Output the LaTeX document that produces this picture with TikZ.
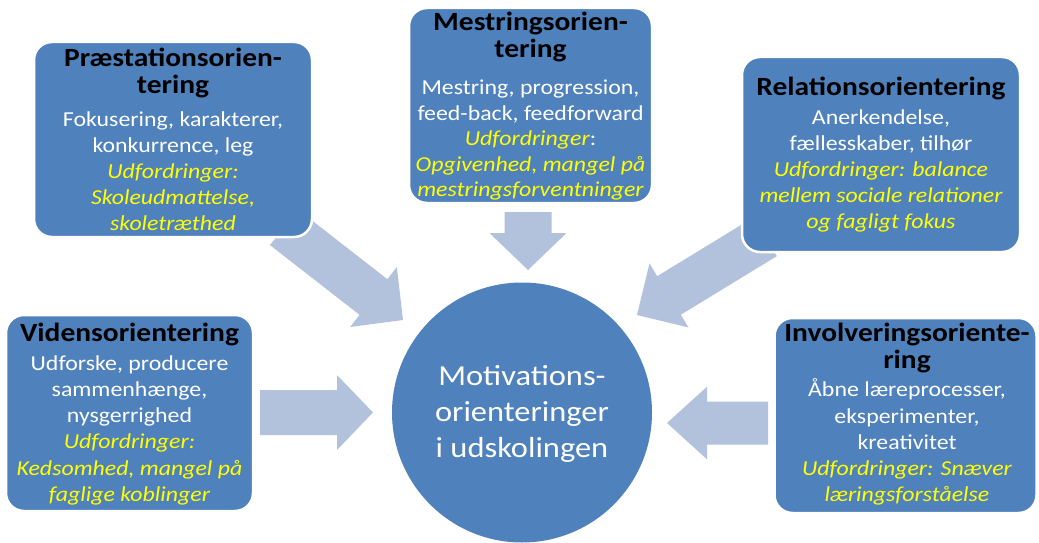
\documentclass[tikz,border=0pt]{standalone}
\usepackage{fontspec}
\setmainfont{Carlito}[FakeStretch=1.12]
\definecolor{boxblue}{HTML}{4F81BD}
\definecolor{arrowfill}{HTML}{B2C1DC}
\definecolor{yel}{HTML}{FFFF00}
\newcommand\ttl[1]{{\fontsize{26.3}{26}\selectfont\bfseries\color{black}#1}}
\newcommand\ud[1]{{\itshape\color{yel}#1}}
\newcommand\txtfont[1]{\fontsize{21.3}{#1}\selectfont\lineskiplimit=-100pt\relax}
\tikzset{
  pics/blockarrow/.style n args={4}{code={
    \fill[arrowfill] (0,0) -- (-#4,#3) -- (-#4,#2) -- (-#1,#2) -- (-#1,-#2) -- (-#4,-#2) -- (-#4,-#3) -- cycle;
  }},
  box/.style={fill=boxblue, draw=white, line width=2.5pt, rounded corners=18pt},
  txt/.style={align=center, inner sep=0pt, anchor=base, text=white,
    font={\txtfont{#1}}}
}
\begin{document}
\begin{tikzpicture}[x=1pt,y=-1pt]
\useasboundingbox (0,0) rectangle (1039,543);
% arrows
\pic (aL) at (373,412.5) {blockarrow={113}{22.5}{37.5}{36}};
\pic[rotate=180] (aR) at (667,423) {blockarrow={101}{21.5}{36.3}{40}};
\pic[rotate=-90] (aT) at (528,270) {blockarrow={58}{23.5}{38.5}{37}};
\pic[rotate=-37.9] (aUL) at (403,320) {blockarrow={151}{22.6}{38}{37.4}};
\pic[rotate=-148.6] (aUR) at (637,315) {blockarrow={150}{22.6}{37.5}{37.5}};
% boxes
\node[box, minimum width=278pt, minimum height=195pt] (praest) at (173,139.5) {};
\node[box, minimum width=243pt, minimum height=195pt] (mestr) at (530.5,105.5) {};
\node[box, minimum width=278pt, minimum height=195pt] (relat) at (881,154.5) {};
\node[box, minimum width=247pt, minimum height=196pt] (videns) at (129.5,413) {};
\node[box, minimum width=262pt, minimum height=195pt] (involv) at (905.5,415.5) {};
\node[circle, fill=boxblue, minimum size=260pt, inner sep=0pt] (center) at (522,412.5) {};
% texts (anchored at the baseline of the last line)
\node[txt=26] (praestT) at (173,230.7) {\ttl{Præstationsorien-}\\[1pt]\ttl{tering}\\[7pt]Fokusering, karakterer,\\konkurrence, leg\\\ud{Udfordringer:}\\\ud{Skoleudmattelse,}\\\ud{skoletræthed}};
\node[txt=25.5] (mestrT) at (530.5,196.7) {\ttl{Mestringsorien-}\\[1.5pt]\ttl{tering}\\[11.5pt]Mestring, progression,\\feed-back, feedforward\\\ud{Udfordringer}:\\\ud{Opgivenhed, mangel på}\\\ud{mestringsforventninger}};
\node[txt=26] (relatT) at (881,228) {\ttl{Relationsorientering}\\[3pt]Anerkendelse,\\fællesskaber, tilhør\\\ud{Udfordringer: balance}\\\ud{mellem sociale relationer}\\\ud{og fagligt fokus}};
\node[txt=26.3] (vidensT) at (129.5,501.5) {\ttl{Vidensorientering}\\[2pt]Udforske, producere\\sammenhænge,\\nysgerrighed\\\ud{Udfordringer:}\\\ud{Kedsomhed, mangel på}\\\ud{faglige koblinger}};
\node[txt=26.3] (involvT) at (907,501.9) {\ttl{Involveringsoriente-}\\[0.4pt]\ttl{ring}\\[2pt]Åbne læreprocesser,\\eksperimenter,\\kreativitet\\\ud{Udfordringer: Snæver}\\\ud{læringsforståelse}};
\node[align=center, inner sep=0pt, anchor=base, text=white, font={\fontsize{29}{36}\selectfont}] (centerT) at (522,457) {Motivations-\\orienteringer\\i udskolingen};
\end{tikzpicture}
\end{document}
